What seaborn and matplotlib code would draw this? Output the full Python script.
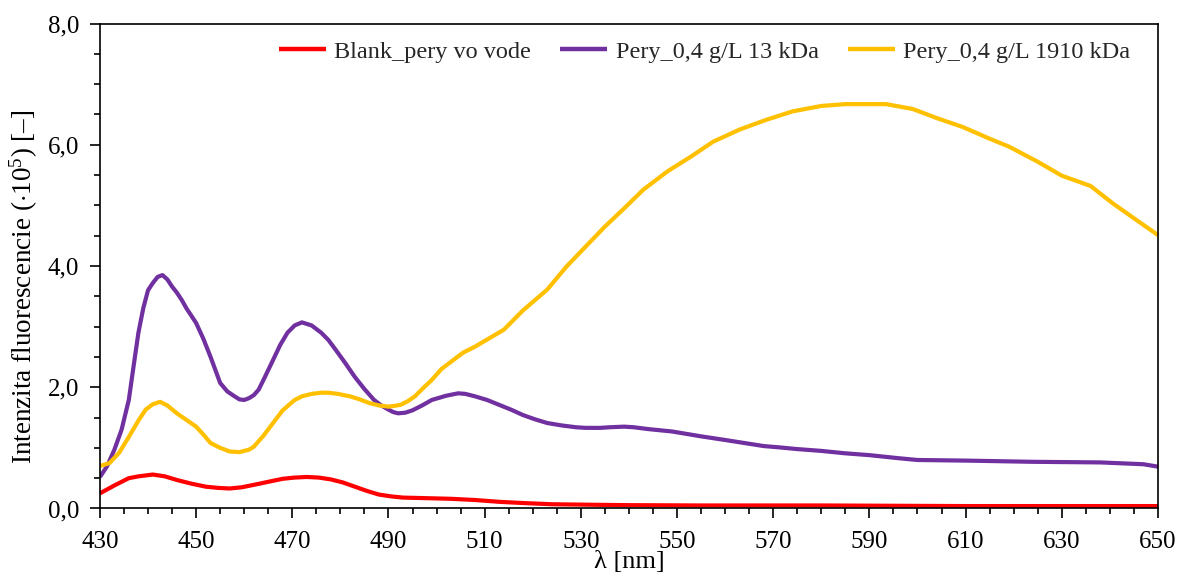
import numpy as np
import pandas as pd
import matplotlib
matplotlib.use("Agg")
import matplotlib.pyplot as plt
from matplotlib.ticker import MultipleLocator, FixedLocator, FuncFormatter
import seaborn as sns

# Wavelengths (nm) and fluorescence intensities (x10^5) for each sample
wl_blank = [430, 433, 436, 438, 441, 443.5, 446, 449, 452, 454.5, 457, 459.5, 462,
            465, 468, 470.5, 473, 475.5, 478, 480.5, 483, 485.5, 488, 490.5, 493,
            498, 503, 508, 513, 518, 524, 534, 540, 555, 580, 610, 650]
blank = [0.25, 0.38, 0.50, 0.53, 0.56, 0.53, 0.47, 0.41, 0.36, 0.34, 0.33, 0.35,
         0.39, 0.44, 0.49, 0.51, 0.52, 0.51, 0.48, 0.43, 0.36, 0.29, 0.23, 0.20,
         0.18, 0.17, 0.16, 0.14, 0.11, 0.09, 0.07, 0.06, 0.055, 0.05, 0.05, 0.04,
         0.04]

wl_13 = [430, 431.5, 433, 434.5, 436, 437, 438, 439, 440, 441, 442, 443, 444, 445,
         446, 447, 448, 450, 451.5, 453, 455, 456.5, 458, 459, 460, 461, 462, 463,
         464, 466, 467.5, 469, 470.5, 472, 474, 476, 477.5, 479, 481, 483, 485,
         487, 488.5, 490, 491, 492, 493.5, 495, 497, 499, 502, 504.5, 506, 508,
         510.5, 513, 515.5, 518, 520.5, 523, 526, 529, 531, 534, 536, 539, 541,
         544, 546.5, 549, 552, 555, 560, 564, 568, 571, 575, 580, 585, 590, 596,
         600, 610, 624, 638, 647, 650]
pery_13 = [0.52, 0.70, 0.97, 1.30, 1.79, 2.35, 2.90, 3.30, 3.60, 3.72, 3.82, 3.85,
           3.78, 3.66, 3.56, 3.44, 3.30, 3.06, 2.80, 2.50, 2.07, 1.93, 1.85, 1.80,
           1.79, 1.82, 1.87, 1.96, 2.12, 2.45, 2.70, 2.90, 3.02, 3.07, 3.02, 2.90,
           2.78, 2.62, 2.40, 2.17, 1.97, 1.79, 1.70, 1.63, 1.59, 1.57, 1.58, 1.62,
           1.70, 1.79, 1.86, 1.90, 1.89, 1.85, 1.79, 1.71, 1.63, 1.54, 1.47, 1.41,
           1.37, 1.34, 1.33, 1.33, 1.34, 1.35, 1.34, 1.31, 1.29, 1.27, 1.23, 1.19,
           1.13, 1.08, 1.03, 1.01, 0.98, 0.95, 0.91, 0.88, 0.83, 0.80, 0.79, 0.77,
           0.76, 0.73, 0.69]

wl_1910 = [430, 432, 434, 436, 438, 439.5, 441, 442.5, 444, 446, 448, 450, 451.5,
           453, 455, 457, 459, 461, 462, 464, 466, 468, 470.5, 472, 474, 476,
           477.5, 479.5, 482, 484, 486, 488, 490, 491, 492.5, 494, 495.5, 497, 499,
           501, 503.5, 505.5, 508, 509.5, 511, 514, 518, 523, 527, 531, 535, 539,
           543, 548, 553, 557.5, 563, 568.5, 574, 580, 585, 589, 593.5, 599, 604,
           609.5, 615, 619, 625, 630, 636, 640.5, 645.5, 650]
pery_1910 = [0.70, 0.75, 0.92, 1.18, 1.45, 1.63, 1.72, 1.76, 1.70, 1.57, 1.46, 1.35,
             1.22, 1.08, 1.00, 0.94, 0.93, 0.97, 1.02, 1.20, 1.41, 1.62, 1.79, 1.85,
             1.89, 1.91, 1.91, 1.89, 1.85, 1.80, 1.74, 1.70, 1.68, 1.69, 1.71, 1.77,
             1.85, 1.97, 2.12, 2.30, 2.45, 2.57, 2.67, 2.74, 2.81, 2.95, 3.27, 3.61,
             3.99, 4.32, 4.65, 4.95, 5.26, 5.56, 5.81, 6.05, 6.25, 6.41, 6.55, 6.64,
             6.67, 6.67, 6.67, 6.59, 6.44, 6.29, 6.10, 5.97, 5.72, 5.49, 5.32, 5.04,
             4.76, 4.51]

labels = ["Blank_pery vo vode", "Pery_0,4 g/L 13 kDa", "Pery_0,4 g/L 1910 kDa"]
colors = ["#FF0000", "#7030A0", "#FFC000"]
x_ticks = list(range(430, 651, 20))

sns.set_theme(style="white")
plt.rcParams["font.family"] = ["Liberation Serif", "DejaVu Serif"]
plt.rcParams["mathtext.fontset"] = "custom"
plt.rcParams["mathtext.rm"] = "Liberation Serif"
plt.rcParams["mathtext.it"] = "Liberation Serif:italic"

fig = plt.figure(figsize=(11.8, 5.76), dpi=100)
ax = fig.add_axes([0.0847, 0.1172, 0.8966, 0.842])

series = [(wl_blank, blank), (wl_13, pery_13), (wl_1910, pery_1910)]
for (x, y), lab, col in zip(series, labels, colors):
    df = pd.DataFrame({"wl": x, "val": y})
    sns.lineplot(data=df, x="wl", y="val", ax=ax, color=col, linewidth=3.0,
                 label=lab, sort=True, solid_joinstyle="round",
                 solid_capstyle="butt")

ax.set_xlim(430, 650)
ax.set_ylim(0, 8)
ax.xaxis.set_major_locator(FixedLocator(x_ticks))
ax.xaxis.set_minor_locator(FixedLocator(list(range(430, 651, 5))))
ax.yaxis.set_major_locator(MultipleLocator(2))
ax.yaxis.set_minor_locator(MultipleLocator(0.5))
ax.yaxis.set_major_formatter(FuncFormatter(lambda v, p: f"{v:.1f}".replace(".", ",")))
ax.xaxis.set_major_formatter(FuncFormatter(lambda v, p: f"{v:.0f}"))

ax.tick_params(axis="both", which="major", direction="out", length=7, width=1.2,
               color="black", labelsize=18, labelcolor="black",
               bottom=True, left=True, top=False, right=False)
ax.tick_params(axis="x", which="major", pad=9)
ax.tick_params(axis="y", which="major", pad=8)
ax.tick_params(axis="both", which="minor", direction="out", length=4.5, width=1.2,
               color="black", bottom=True, left=True, top=False, right=False)

for s in ax.spines.values():
    s.set_visible(True)
    s.set_color("black")
    s.set_linewidth(1.2)

ax.set_xlabel("λ [nm]", fontsize=19, color="black", labelpad=-1)
ax.set_ylabel(r"Intenzita fluorescencie ($\cdot$10$^{5}$) [–]", fontsize=19.5,
              color="black")
ax.yaxis.set_label_coords(-0.057, 0.457)

leg = ax.legend(loc="upper right", bbox_to_anchor=(0.983, 0.985), ncol=3,
                frameon=False, fontsize=17.5, handlelength=1.95,
                handletextpad=0.33, columnspacing=1.2, borderaxespad=0)
for line in leg.get_lines():
    line.set_linewidth(3.2)

fig.savefig("out.png", dpi=100)
